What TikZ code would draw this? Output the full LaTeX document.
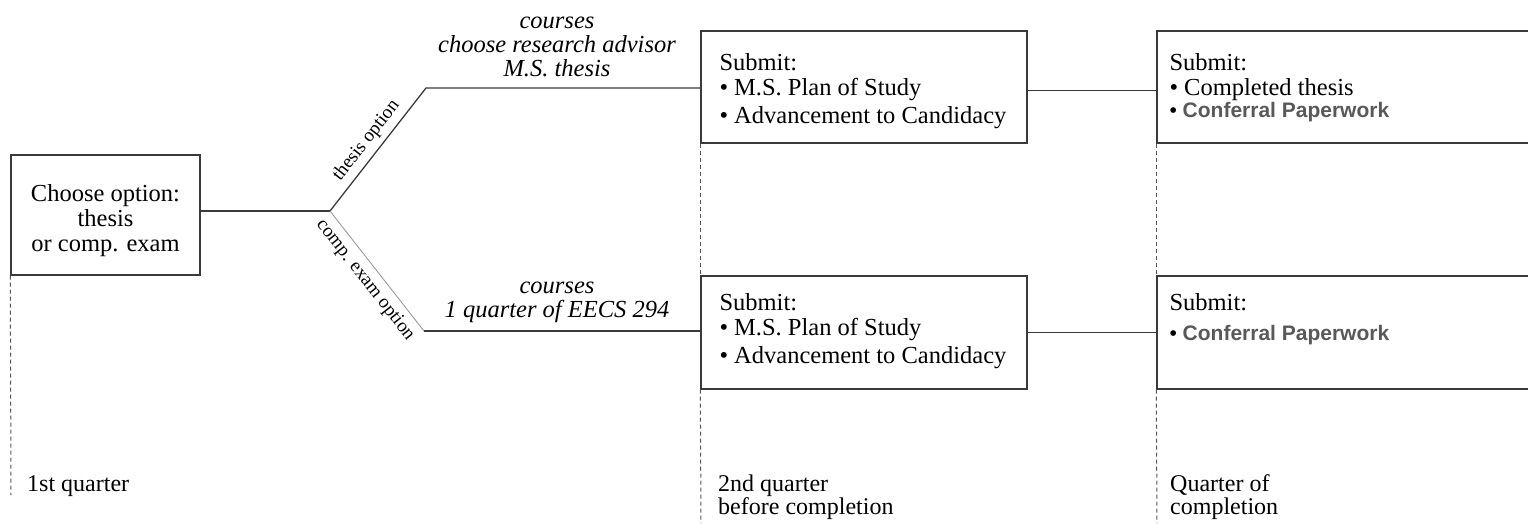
\documentclass[tikz,border=0pt]{standalone}
\usepackage{fontspec}
\setmainfont{Liberation Serif}
\newfontfamily\cpfont{Liberation Sans}
\definecolor{linec}{HTML}{3A3A3A}
\definecolor{lightc}{HTML}{9A9A9A}
\definecolor{guidec}{HTML}{555555}
\definecolor{cpgray}{HTML}{595959}
\newcommand{\cpitem}{{\cpfont\fontsize{21}{25}\selectfont\textbullet\ \bfseries\color{cpgray}Conferral Paperwork}}
\tikzset{
  box/.style={draw=linec, line width=1.4pt, rectangle, fill=white, inner sep=0pt},
  conn/.style={draw=linec, line width=1.3pt},
  connlight/.style={draw=lightc, line width=0.9pt},
  guide/.style={draw=guidec, line width=1pt, dash pattern=on 4pt off 3pt},
  small/.style={font=\fontsize{19}{19}\selectfont, text=black},
  plain/.style={inner sep=0pt},
  boxtext/.style={inner sep=0pt, anchor=north west, align=left}
}
\begin{document}
\begin{tikzpicture}[x=1pt,y=1pt,font=\fontsize{24.5}{25}\selectfont]
\useasboundingbox (0,0) rectangle (1528,-523);
\clip (0,0) rectangle (1528,-523);

% boxes
\node[box, minimum width=189pt, minimum height=120pt] (choose) at (105.5,-215) {};
\node[plain, align=center, yshift=-5.5pt] (chooset) at (choose.center) {Choose option:\\thesis\\or comp. exam};

\node[box, minimum width=326pt, minimum height=112pt] (mtop) at (864,-87) {};
\node[boxtext] (mtopt) at ([xshift=19pt, yshift=-23.2pt]mtop.north west)
  {Submit:\\\textbullet\ M.S. Plan of Study\\[3pt]\textbullet\ Advancement to Candidacy};

\node[box, minimum width=326pt, minimum height=113pt] (mbot) at (864,-332.5) {};
\node[boxtext] (mbott) at ([xshift=19pt, yshift=-17.7pt]mbot.north west)
  {Submit:\\\textbullet\ M.S. Plan of Study\\[3pt]\textbullet\ Advancement to Candidacy};

\node[box, minimum width=403pt, minimum height=112pt] (rtop) at (1358.5,-87) {};
\node[boxtext] (rtopt) at ([xshift=13pt, yshift=-23.2pt]rtop.north west)
  {Submit:\\\textbullet\ Completed thesis\\[-3.5pt]\cpitem};

\node[box, minimum width=403pt, minimum height=113pt] (rbot) at (1358.5,-332.5) {};
\node[boxtext] (rbott) at ([xshift=13pt, yshift=-17.7pt]rbot.north west)
  {Submit:\\[5.5pt]\cpitem};

% branch points
\coordinate (j) at (330,-211);
\coordinate (tk) at (426,-88);
\coordinate (ck) at (424,-331);

% connectors
\draw[conn] (choose.east |- j) -- (j);
\draw[conn] (j) -- node[midway, sloped, above, small, yshift=2pt] {thesis option} (tk) -- (tk -| mtop.west);
\draw[connlight] (j) -- node[midway, sloped, below, small, yshift=-3pt] {comp. exam option} (ck);
\draw[conn] (ck) -- (ck -| mbot.west);
\draw[conn] ([yshift=-3.5pt]mtop.east) -- ([yshift=-3.5pt]rtop.west);
\draw[conn] (mbot.east) -- (rbot.west);

% italic labels
\node[align=center, font=\fontsize{24.5}{24}\selectfont\itshape] (thtext) at (557,-46.5)
  {courses\\choose research advisor\\M.S. thesis};
\node[align=center, font=\fontsize{24.5}{24}\selectfont\itshape] (cetext) at (557,-302)
  {courses\\1 quarter of EECS 294};

% time guides
\coordinate (g1) at (11,-495);
\coordinate (g2) at (701,-523);
\coordinate (g3) at (1157,-523);
\draw[guide] (choose.south west) -- (g1);
\draw[guide] (mtop.south west) -- (mbot.north west);
\draw[guide] (mbot.south west) -- (g2);
\draw[guide] (rtop.south west) -- (rbot.north west);
\draw[guide] (rbot.south west) -- (g3);

% quarter labels
\node[plain, anchor=west, font=\fontsize{24}{23}\selectfont] (q1) at (27,-486) {1st quarter};
\node[plain, anchor=west, align=left, font=\fontsize{24}{23}\selectfont] (q2) at (718,-497) {2nd quarter\\before completion};
\node[plain, anchor=west, align=left, font=\fontsize{24}{23}\selectfont] (q3) at (1170,-497) {Quarter of\\completion};
\end{tikzpicture}
\end{document}
